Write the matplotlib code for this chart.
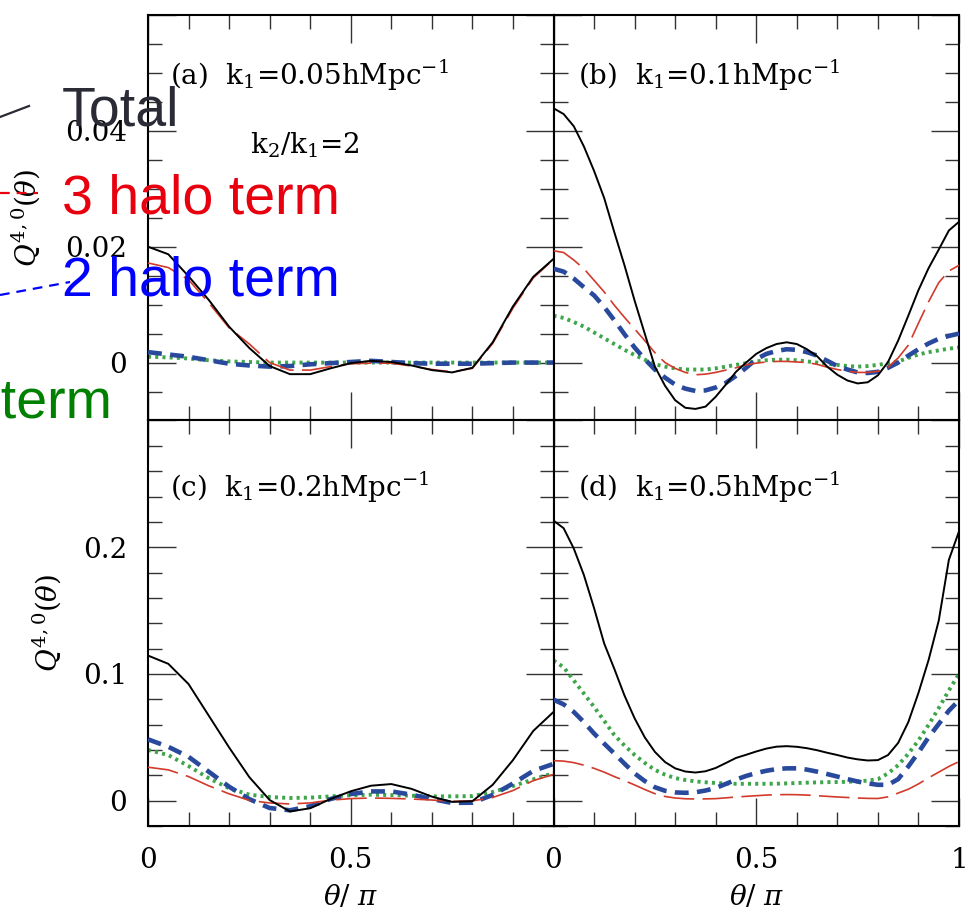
import numpy as np
import matplotlib
matplotlib.use("Agg")
import matplotlib.pyplot as plt
from matplotlib.lines import Line2D
from matplotlib.ticker import MultipleLocator, FixedLocator

# ---------------- data ----------------
theta_coarse = [round(0.05 * i, 3) for i in range(21)]
theta_fine = [round(0.025 * i, 4) for i in range(41)]

# (a) k1 = 0.05
a_total = [0.0200, 0.0187, 0.0149, 0.0108, 0.0062, 0.0025, -0.0006, -0.0020, -0.0020, -0.0010,
           -0.0001, 0.0003, 0.0001, -0.0005, -0.0013, -0.0017, -0.0009, 0.0035, 0.0097, 0.0148, 0.0179]
a_3h = [0.0172, 0.0164, 0.0143, 0.0103, 0.0060, 0.0032, 0.0000, -0.0013, -0.0013, -0.0007,
        -0.0002, -0.0001, -0.0001, -0.0006, -0.0012, -0.0016, -0.0010, 0.0033, 0.0094, 0.0146, 0.0178]
a_2h = [0.0018, 0.0014, 0.0010, 0.0004, -0.0002, -0.0005, -0.0007, -0.0006, -0.0003, -0.0001,
        0.0001, 0.0003, 0.0001, -0.0001, -0.0002, -0.0002, -0.0002, -0.0001, 0.0000, 0.0000, 0.0000]
a_1h = [0.0010, 0.0009, 0.0007, 0.0004, 0.0002, 0.0001, 0.0000, 0.0000, 0.0000, 0.0000,
        0.0000, 0.0000, 0.0000, 0.0000, 0.0000, 0.0000, 0.0000, 0.0000, 0.0000, 0.0000, 0.0000]

# (b) k1 = 0.1
b_total = [0.0439, 0.0429, 0.0408, 0.0373, 0.0331, 0.0284, 0.0225, 0.0168, 0.0107, 0.0050,
           -0.0007, -0.0040, -0.0065, -0.0078, -0.0080, -0.0076, -0.0059, -0.0038, -0.0016, 0.0000,
           0.0015, 0.0025, 0.0032, 0.0035, 0.0032, 0.0023, 0.0011, -0.0007, -0.0021, -0.0031,
           -0.0036, -0.0034, -0.0022, 0.0001, 0.0038, 0.0081, 0.0125, 0.0163, 0.0195, 0.0228, 0.0243]
b_3h = [0.0193, 0.0190, 0.0177, 0.0162, 0.0142, 0.0122, 0.0099, 0.0078, 0.0058, 0.0038,
        0.0017, 0.0000, -0.0010, -0.0017, -0.0021, -0.0020, -0.0017, -0.0013, -0.0009, -0.0004,
        -0.0001, 0.0001, 0.0002, 0.0002, 0.0001, 0.0000, -0.0003, -0.0008, -0.0012, -0.0015,
        -0.0017, -0.0017, -0.0015, -0.0008, 0.0008, 0.0030, 0.0068, 0.0105, 0.0138, 0.0158, 0.0168]
b_2h = [0.0162, 0.0157, 0.0145, 0.0130, 0.0116, 0.0096, 0.0073, 0.0049, 0.0026, 0.0006,
        -0.0012, -0.0026, -0.0038, -0.0045, -0.0049, -0.0048, -0.0043, -0.0035, -0.0023, -0.0009,
        0.0006, 0.0015, 0.0020, 0.0023, 0.0022, 0.0018, 0.0012, 0.0003, -0.0006, -0.0012,
        -0.0017, -0.0018, -0.0016, -0.0009, 0.0000, 0.0012, 0.0023, 0.0033, 0.0041, 0.0046, 0.0050]
b_1h = [0.0081, 0.0077, 0.0070, 0.0062, 0.0052, 0.0042, 0.0032, 0.0022, 0.0013, 0.0005,
        -0.0003, -0.0007, -0.0010, -0.0012, -0.0012, -0.0012, -0.0010, -0.0007, -0.0004, -0.0001,
        0.0002, 0.0004, 0.0005, 0.0005, 0.0004, 0.0002, 0.0000, -0.0002, -0.0004, -0.0006,
        -0.0007, -0.0006, -0.0004, -0.0001, 0.0002, 0.0008, 0.0014, 0.0018, 0.0021, 0.0024, 0.0026]

# (c) k1 = 0.2
c_total = [0.1145, 0.1080, 0.0920, 0.0670, 0.0420, 0.0185, 0.0005, -0.0085, -0.0060, 0.0013,
           0.0074, 0.0118, 0.0131, 0.0093, 0.0032, -0.0010, -0.0004, 0.0125, 0.0320, 0.0550, 0.0700]
c_3h = [0.0264, 0.0243, 0.0190, 0.0117, 0.0054, 0.0002, -0.0018, -0.0026, -0.0018, 0.0004,
        0.0016, 0.0021, 0.0018, 0.0013, 0.0005, -0.0005, -0.0002, 0.0025, 0.0080, 0.0158, 0.0207]
c_2h = [0.0484, 0.0425, 0.0346, 0.0228, 0.0110, 0.0012, -0.0058, -0.0076, -0.0044, 0.0013,
        0.0052, 0.0073, 0.0073, 0.0047, 0.0013, -0.0018, -0.0016, 0.0045, 0.0135, 0.0235, 0.0290]
c_1h = [0.0400, 0.0360, 0.0273, 0.0177, 0.0098, 0.0047, 0.0029, 0.0021, 0.0024, 0.0034,
        0.0042, 0.0047, 0.0044, 0.0039, 0.0034, 0.0034, 0.0036, 0.0068, 0.0115, 0.0168, 0.0217]

# (d) k1 = 0.5
d_total = [0.221, 0.215, 0.199, 0.178, 0.152, 0.124, 0.104, 0.083, 0.065, 0.050,
           0.0385, 0.0305, 0.0255, 0.0230, 0.0222, 0.0232, 0.0258, 0.0297, 0.0337, 0.0362,
           0.0388, 0.0411, 0.0426, 0.0430, 0.0425, 0.0414, 0.0398, 0.0378, 0.0360, 0.0340,
           0.0326, 0.0317, 0.0320, 0.0360, 0.0456, 0.0620, 0.0850, 0.1110, 0.1420, 0.1900, 0.2125]
d_3h = [0.0316, 0.0312, 0.0300, 0.0280, 0.0255, 0.0225, 0.0190, 0.0158, 0.0124, 0.0088,
        0.0055, 0.0033, 0.0021, 0.0015, 0.0013, 0.0014, 0.0016, 0.0022, 0.0029, 0.0034,
        0.0039, 0.0044, 0.0047, 0.0048, 0.0047, 0.0044, 0.0039, 0.0034, 0.0029, 0.0025,
        0.0021, 0.0018, 0.0017, 0.0030, 0.0060, 0.0090, 0.0132, 0.0180, 0.0225, 0.0270, 0.0308]
d_2h = [0.0797, 0.0760, 0.0700, 0.0620, 0.0530, 0.0450, 0.0372, 0.0292, 0.0215, 0.0155,
        0.0106, 0.0078, 0.0065, 0.0062, 0.0066, 0.0080, 0.0100, 0.0132, 0.0166, 0.0195,
        0.0218, 0.0236, 0.0249, 0.0255, 0.0255, 0.0245, 0.0229, 0.0210, 0.0190, 0.0170,
        0.0151, 0.0136, 0.0125, 0.0125, 0.0170, 0.0270, 0.0380, 0.0500, 0.0605, 0.0710, 0.0792]
d_1h = [0.1106, 0.1053, 0.0949, 0.0845, 0.0740, 0.0630, 0.0518, 0.0435, 0.0361, 0.0298,
        0.0243, 0.0205, 0.0178, 0.0163, 0.0152, 0.0145, 0.0139, 0.0136, 0.0133, 0.0133,
        0.0133, 0.0133, 0.0134, 0.0136, 0.0139, 0.0142, 0.0144, 0.0146, 0.0147, 0.0149,
        0.0152, 0.0158, 0.0170, 0.0215, 0.0280, 0.0370, 0.0475, 0.0598, 0.0730, 0.0870, 0.1001]

panel_labels = ["(a)", "(b)", "(c)", "(d)"]
k1_values = ["0.05", "0.1", "0.2", "0.5"]
legend_labels = ["Total", "3 halo term", "2 halo term", "1 halo term"]

# ---------------- style ----------------
plt.rcParams["font.family"] = ["DejaVu Serif"]
plt.rcParams["mathtext.fontset"] = "dejavuserif"
plt.rcParams["lines.scale_dashes"] = False

styles = {
    "total": dict(color="black", lw=1.4, ls="-", zorder=5),
    "3h": dict(color="#d23a2b", lw=1.2, dashes=(22, 6), zorder=4),
    "2h": dict(color="#294a9c", lw=3.3, dashes=(10, 6), zorder=3),
    "1h": dict(color="#3ea64a", lw=2.8, dashes=(2.2, 3.0), zorder=2),
}

fig = plt.figure(figsize=(9.77, 9.13), dpi=100)
gs = fig.add_gridspec(2, 2, left=148 / 977, right=959 / 977, top=1 - 15 / 913,
                      bottom=1 - 826 / 913, wspace=0, hspace=0)

panels = [
    (theta_coarse, a_total, a_3h, a_2h, a_1h),
    (theta_fine, b_total, b_3h, b_2h, b_1h),
    (theta_coarse, c_total, c_3h, c_2h, c_1h),
    (theta_fine, d_total, d_3h, d_2h, d_1h),
]

axes = []
for i in range(4):
    r, c = divmod(i, 2)
    ax = fig.add_subplot(gs[r, c])
    axes.append(ax)
    th, tot, h3, h2, h1 = panels[i]
    ax.plot(th, h1, **styles["1h"])
    ax.plot(th, h2, **styles["2h"])
    ax.plot(th, h3, **styles["3h"])
    ax.plot(th, tot, **styles["total"])

    ax.set_xlim(0, 1)
    if r == 0:
        ax.set_ylim(-0.01, 0.06)
        ax.yaxis.set_major_locator(FixedLocator([0, 0.02, 0.04, 0.06]))
        ax.yaxis.set_minor_locator(MultipleLocator(0.005))
    else:
        ax.set_ylim(-0.02, 0.3)
        ax.yaxis.set_major_locator(FixedLocator([0, 0.1, 0.2, 0.3]))
        ax.yaxis.set_minor_locator(MultipleLocator(0.02))
    ax.xaxis.set_major_locator(FixedLocator([0, 0.5, 1]))
    ax.xaxis.set_minor_locator(MultipleLocator(0.1))

    ax.tick_params(which="both", direction="in", top=True, right=True,
                   labelsize=20, pad=15, width=1.0, color="#333333")
    ax.tick_params(which="major", length=20)
    ax.tick_params(which="minor", length=10)
    for sp in ax.spines.values():
        sp.set_linewidth(1.5)

    # tick labels
    if c == 0:
        if r == 0:
            ax.set_yticklabels(["0", "0.02", "0.04", ""])
        else:
            ax.set_yticklabels(["0", "0.1", "0.2", ""])
        ax.set_ylabel(r"$Q^{4,0}(\theta)$", fontsize=20)
        ax.yaxis.set_label_coords(-0.262 if r == 0 else -0.21, 0.5)
    else:
        ax.tick_params(labelleft=False)
    if r == 1:
        if c == 0:
            ax.set_xticklabels(["0", "0.5", ""])
        else:
            ax.set_xticklabels(["0", "0.5", "1"])
        ax.set_xlabel(r"$\theta/\ \pi$", fontsize=20)
        ax.xaxis.set_label_coords(0.5, -0.142)
    else:
        ax.tick_params(labelbottom=False)

    ax.text(0.054 if c == 0 else 0.06, 0.852 if r == 0 else 0.835,
            panel_labels[i] + "  k$_1$=" + k1_values[i] + "hMpc$^{-1}$",
            transform=ax.transAxes, fontsize=20, va="center", ha="left")

axes[0].text(0.388, 0.679, "k$_2$/k$_1$=2", transform=axes[0].transAxes,
             fontsize=20, ha="center", va="center")

# ---------------- legend (partly outside the figure) ----------------
leg_font = ["Liberation Sans", "DejaVu Sans"]
fig.add_artist(Line2D([0.0, 29 / 977], [1 - 117 / 913, 1 - 106 / 913],
                      color="#2b2b36", lw=1.6, transform=fig.transFigure))
fig.add_artist(Line2D([0.0, 38 / 977], [1 - 193 / 913, 1 - 193 / 913],
                      color="#e8000f", lw=1.6, dashes=(7, 5), transform=fig.transFigure))
fig.add_artist(Line2D([0.0, 70 / 977], [1 - 295 / 913, 1 - 282 / 913],
                      color="#0000ff", lw=1.6, dashes=(7, 5), transform=fig.transFigure))

legend_colors = ["#2b2b36", "#e8000f", "#0000ff", "#008000"]
legend_x = [62 / 977, 62 / 977, 62 / 977, -166 / 977]
legend_y = [1 - 125 / 913, 1 - 213 / 913, 1 - 296 / 913, 1 - 417 / 913]
for lab, col, lx, ly in zip(legend_labels, legend_colors, legend_x, legend_y):
    fig.text(lx, ly, lab, color=col, fontsize=40, family=leg_font,
             ha="left", va="baseline", zorder=10)

fig.savefig("out.png", dpi=100)
